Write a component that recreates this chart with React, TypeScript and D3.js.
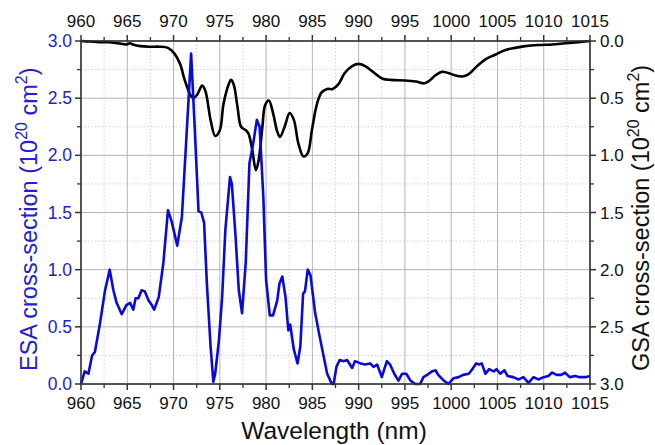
import React from "react";
import * as d3 from "d3";

const esaWl = [960,960.4,960.8,961.2,961.5,962.05,962.6,963.1,963.5,963.85,964.4,964.9,965.3,965.65,965.9,966.2,966.55,966.9,967.3,967.65,967.9,968.4,968.9,969.4,969.8,970.4,970.9,971.35,971.9,972.3,972.7,973.0,973.3,973.6,974.0,974.3,974.5,974.9,975.25,975.6,976.1,976.3,976.7,977.05,977.4,977.8,978.2,978.6,979.0,979.3,979.7,980.0,980.4,980.75,981.2,981.45,981.75,982.1,982.4,982.6,983.0,983.4,983.7,984.0,984.2,984.5,984.8,985.3,985.8,986.2,986.6,987.1,987.3,987.6,987.95,988.4,988.75,989.3,989.6,990.2,990.7,991.25,991.6,992.0,992.5,993.05,993.4,993.85,994.3,994.7,995.15,995.6,996.1,996.65,997.0,997.4,997.9,998.3,998.6,999.2,999.7,1000.25,1000.8,1001.3,1001.9,1002.2,1002.7,1003.0,1003.3,1003.7,1004.1,1004.6,1004.9,1005.3,1005.75,1006.1,1006.7,1007.3,1007.8,1008.35,1008.9,1009.4,1010.0,1010.5,1010.9,1011.4,1011.9,1012.3,1012.8,1013.4,1013.9,1014.5,1015];
const esaVal = [0,0.11,0.09,0.25,0.28,0.53,0.82,1.0,0.82,0.71,0.61,0.69,0.71,0.65,0.75,0.75,0.82,0.81,0.73,0.69,0.65,0.76,1.06,1.52,1.42,1.21,1.46,2.10,2.89,2.22,1.51,1.50,1.41,0.88,0.33,0.02,0.09,0.38,0.76,1.35,1.81,1.75,1.29,0.82,0.62,1.06,1.93,2.10,2.31,2.25,1.64,0.91,0.60,0.60,0.73,0.88,0.94,0.76,0.47,0.52,0.30,0.18,0.33,0.79,0.81,1.00,0.95,0.62,0.41,0.25,0.09,0.0,0.0,0.15,0.21,0.20,0.21,0.14,0.20,0.18,0.17,0.18,0.15,0.17,0.06,0.20,0.17,0.09,0.03,0.09,0.09,0.03,0.0,0.0,0.06,0.08,0.11,0.12,0.08,0.03,0.0,0.05,0.06,0.08,0.09,0.12,0.18,0.17,0.18,0.09,0.13,0.11,0.13,0.09,0.12,0.07,0.06,0.04,0.06,0.01,0.06,0.04,0.06,0.07,0.1,0.08,0.08,0.1,0.06,0.07,0.06,0.06,0.07];

const gsaWl = [960,961,962,963,964,964.9,965.3,965.6,966.4,967.5,968.5,969.4,970.1,970.7,971.2,971.8,972.1,972.55,973.1,973.45,974.0,974.5,975.0,975.4,976.0,976.2,976.5,976.9,977.3,977.8,978.1,978.5,978.9,979.2,979.6,979.9,980.3,980.75,981.2,981.5,982.0,982.55,983.0,983.5,984.05,984.5,984.95,985.5,986.0,986.6,987.2,987.8,988.5,989.3,990.0,990.7,991.7,992.6,993.5,995.0,996.2,997.1,997.6,998.3,999.0,999.7,1000.4,1001.2,1001.9,1002.8,1003.7,1004.75,1005.8,1006.9,1008.0,1009.4,1010.9,1012.3,1013.7,1015];
const gsaVal = [0.0,0.005,0.01,0.01,0.02,0.03,0.02,0.03,0.045,0.05,0.05,0.06,0.11,0.2,0.34,0.47,0.5,0.47,0.39,0.44,0.69,0.83,0.78,0.55,0.37,0.34,0.38,0.57,0.75,0.78,0.81,0.95,1.13,1.04,0.75,0.56,0.52,0.63,0.79,0.84,0.75,0.63,0.69,0.90,1.01,0.98,0.78,0.55,0.45,0.42,0.42,0.38,0.28,0.22,0.20,0.22,0.28,0.33,0.34,0.345,0.355,0.37,0.35,0.30,0.27,0.28,0.30,0.31,0.29,0.22,0.16,0.12,0.08,0.06,0.045,0.035,0.03,0.02,0.01,0.0];

const xMajorTicks = [960,965,970,975,980,985,990,995,1000,1005,1010,1015];
const xMinorTicks = [962.5,967.5,972.5,977.5,982.5,987.5,992.5,997.5,1002.5,1007.5,1012.5];
const yMajorTicks = [0,0.5,1.0,1.5,2.0,2.5,3.0];
const yMinorTicks = [0.25,0.75,1.25,1.75,2.25,2.75];

const L = 81, R = 590, T = 41, B = 384;
const BLUE = "#0a0ad8";
const BLUE_TXT = "#2222c8";
const FONT = "Liberation Sans, Arial, sans-serif";

export default function App() {
  const x = d3.scaleLinear().domain([960, 1015]).range([L, R]);
  const yE = d3.scaleLinear().domain([0, 3]).range([B, T]);
  const yG = d3.scaleLinear().domain([0, 3]).range([T, B]);

  const esa = esaWl.map((w, i) => [w, esaVal[i]] as [number, number]);
  const gsa = gsaWl.map((w, i) => [w, gsaVal[i]] as [number, number]);

  const esaLine = d3.line<[number, number]>().x(d => x(d[0])).y(d => yE(d[1])).curve(d3.curveLinear);
  const gsaLine = d3.line<[number, number]>().x(d => x(d[0])).y(d => yG(d[1])).curve(d3.curveCatmullRom);

  const fmt = d3.format(".1f");

  return (
    <svg width={655} height={445} style={{ position: "absolute", left: 0, top: 0, background: "#fff" }} fontFamily={FONT}>
      <rect x={0} y={0} width={655} height={445} fill="#fff" />
      {xMinorTicks.map(t => (
        <line key={"gxm" + t} x1={x(t)} x2={x(t)} y1={T} y2={B} stroke="#d4d4d4" strokeWidth={1} strokeDasharray="1.5,2" />
      ))}
      {yMinorTicks.map(t => (
        <line key={"gym" + t} x1={L} x2={R} y1={yE(t)} y2={yE(t)} stroke="#d4d4d4" strokeWidth={1} strokeDasharray="1.5,2" />
      ))}
      {xMajorTicks.map(t => (
        <line key={"gx" + t} x1={x(t)} x2={x(t)} y1={T} y2={B} stroke="#b4b4b4" strokeWidth={1} />
      ))}
      {yMajorTicks.map(t => (
        <line key={"gy" + t} x1={L} x2={R} y1={yE(t)} y2={yE(t)} stroke="#b4b4b4" strokeWidth={1} />
      ))}

      <path d={gsaLine(gsa) || ""} fill="none" stroke="#000" strokeWidth={2.6} strokeLinejoin="round" />
      <path d={esaLine(esa) || ""} fill="none" stroke={BLUE} strokeWidth={2.6} strokeLinejoin="round" />

      <rect x={L} y={T} width={R - L} height={B - T} fill="none" stroke="#333" strokeWidth={1.6} />

      {xMajorTicks.map(t => (
        <g key={"xt" + t}>
          <line x1={x(t)} x2={x(t)} y1={B} y2={B + 6} stroke="#333" strokeWidth={1.5} />
          <line x1={x(t)} x2={x(t)} y1={T} y2={T - 6} stroke="#333" strokeWidth={1.5} />
          <text x={x(t)} y={409} textAnchor="middle" fontSize={17} fill="#111">{t}</text>
          <text x={x(t)} y={27} textAnchor="middle" fontSize={17} fill="#111">{t}</text>
        </g>
      ))}
      {xMinorTicks.map(t => (
        <g key={"xmt" + t}>
          <line x1={x(t)} x2={x(t)} y1={B} y2={B + 4} stroke="#333" strokeWidth={1.3} />
          <line x1={x(t)} x2={x(t)} y1={T} y2={T - 4} stroke="#333" strokeWidth={1.3} />
        </g>
      ))}

      {yMajorTicks.map(t => (
        <g key={"yt" + t}>
          <line x1={L} x2={L - 6} y1={yE(t)} y2={yE(t)} stroke="#333" strokeWidth={1.5} />
          <text x={72} y={yE(t) + 6} textAnchor="end" fontSize={17.5} fill={BLUE_TXT}>{fmt(t)}</text>
          <line x1={R} x2={R + 6} y1={yG(t)} y2={yG(t)} stroke="#333" strokeWidth={1.5} />
          <text x={600} y={yG(t) + 6} textAnchor="start" fontSize={17} fill="#111">{fmt(t)}</text>
        </g>
      ))}
      {yMinorTicks.map(t => (
        <g key={"ymt" + t}>
          <line x1={L} x2={L - 4} y1={yE(t)} y2={yE(t)} stroke="#333" strokeWidth={1.3} />
          <line x1={R} x2={R + 4} y1={yG(t)} y2={yG(t)} stroke="#333" strokeWidth={1.3} />
        </g>
      ))}

      <text x={334} y={439} textAnchor="middle" fontSize={24.5} fill="#111">Wavelength (nm)</text>
      <text transform="translate(37,371) rotate(-90)" textAnchor="start" fontSize={23.5} fill={BLUE_TXT}>
        ESA cross-section (10<tspan fontSize={16} dy={-10}>20</tspan><tspan dy={10}> cm</tspan><tspan fontSize={16} dy={-10}>2</tspan><tspan dy={10}>)</tspan>
      </text>
      <text transform="translate(649,371) rotate(-90)" textAnchor="start" fontSize={23.5} fill="#111">
        GSA cross-section (10<tspan fontSize={16} dy={-10}>20</tspan><tspan dy={10}> cm</tspan><tspan fontSize={16} dy={-10}>2</tspan><tspan dy={10}>)</tspan>
      </text>
    </svg>
  );
}
